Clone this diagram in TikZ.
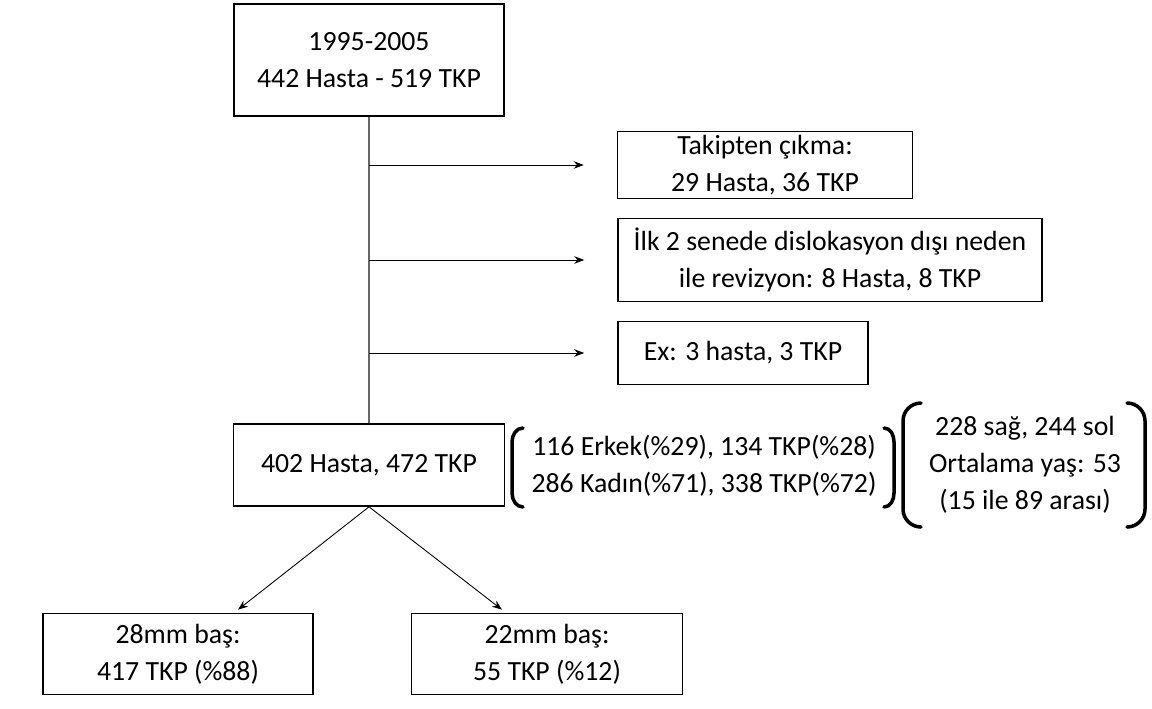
\documentclass[tikz,border=0pt]{standalone}
\usepackage{fontspec}
\setmainfont{Carlito}
\usetikzlibrary{arrows.meta,positioning}

\begin{document}
\begin{tikzpicture}[x=0.02cm,y=-0.02cm,
  font=\fontsize{15.8}{21}\selectfont,
  box/.style={draw,line width=0.9pt,align=center,inner sep=0pt},
  link/.style={->,line width=0.5pt},
  trunkline/.style={line width=0.9pt,black!60},
  brk/.style={line width=2pt,line cap=round},
  >={Stealth[length=2mm,width=1.5mm]}]
  \useasboundingbox (0,0) rectangle (1152,708);
  \node[box,minimum width=5.4cm,minimum height=2.24cm] (start) at (369,60) {1995-2005\\442 Hasta - 519 TKP};
  \node[box,minimum width=5.9cm,minimum height=1.34cm] (lost) at (765,165) {Takipten çıkma:\\29 Hasta, 36 TKP};
  \node[box,minimum width=8.48cm,minimum height=1.66cm] (rev) at (830,260) {İlk 2 senede dislokasyon dışı neden\\ile revizyon: 8 Hasta, 8 TKP};
  \node[box,minimum width=5.0cm,minimum height=1.26cm] (ex) at (743,353) {Ex: 3 hasta, 3 TKP};
  \node[box,minimum width=5.42cm,minimum height=1.64cm] (rest) at (369,465) {402 Hasta, 472 TKP};
  \node[box,minimum width=5.4cm,minimum height=1.62cm] (h28) at (178,654) {28mm baş:\\417 TKP (\%88)};
  \node[box,minimum width=5.42cm,minimum height=1.62cm] (h22) at (547,654) {22mm baş:\\55 TKP (\%12)};
  \node[align=center] (sex) at (704,466) {116 Erkek(\%29), 134 TKP(\%28)\\286 Kadın(\%71), 338 TKP(\%72)};
  \node[align=center] (side) at (1025,465) {228 sağ, 244 sol\\Ortalama yaş: 53\\(15 ile 89 arası)};
  % main line
  \draw[trunkline] (start.south) -- (rest.north);
  \draw[link] (start |- lost) -- ([xshift=-0.66cm]lost.west);
  \draw[link] (start |- rev) -- ([xshift=-0.66cm]rev.west);
  \draw[link] (start |- ex) -- ([xshift=-0.66cm]ex.west);
  \draw[link] (rest.south) -- ([xshift=1.2cm,yshift=0.06cm]h28.north);
  \draw[link] (rest.south) -- ([xshift=-0.9cm,yshift=0.06cm]h22.north);
  % brackets
  \draw[brk] (523,428) to[out=180,in=90] (512,442) -- (512,493) to[out=-90,in=180] (523,507);
  \draw[brk] (884,428) to[out=0,in=90] (894,442) -- (894,493) to[out=-90,in=0] (884,507);
  \draw[brk] (921,403) to[out=180,in=90] (903,421) -- (903,509) to[out=-90,in=180] (921,527);
  \draw[brk] (1127,403) to[out=0,in=90] (1145,421) -- (1145,509) to[out=-90,in=0] (1127,527);
\end{tikzpicture}
\end{document}
